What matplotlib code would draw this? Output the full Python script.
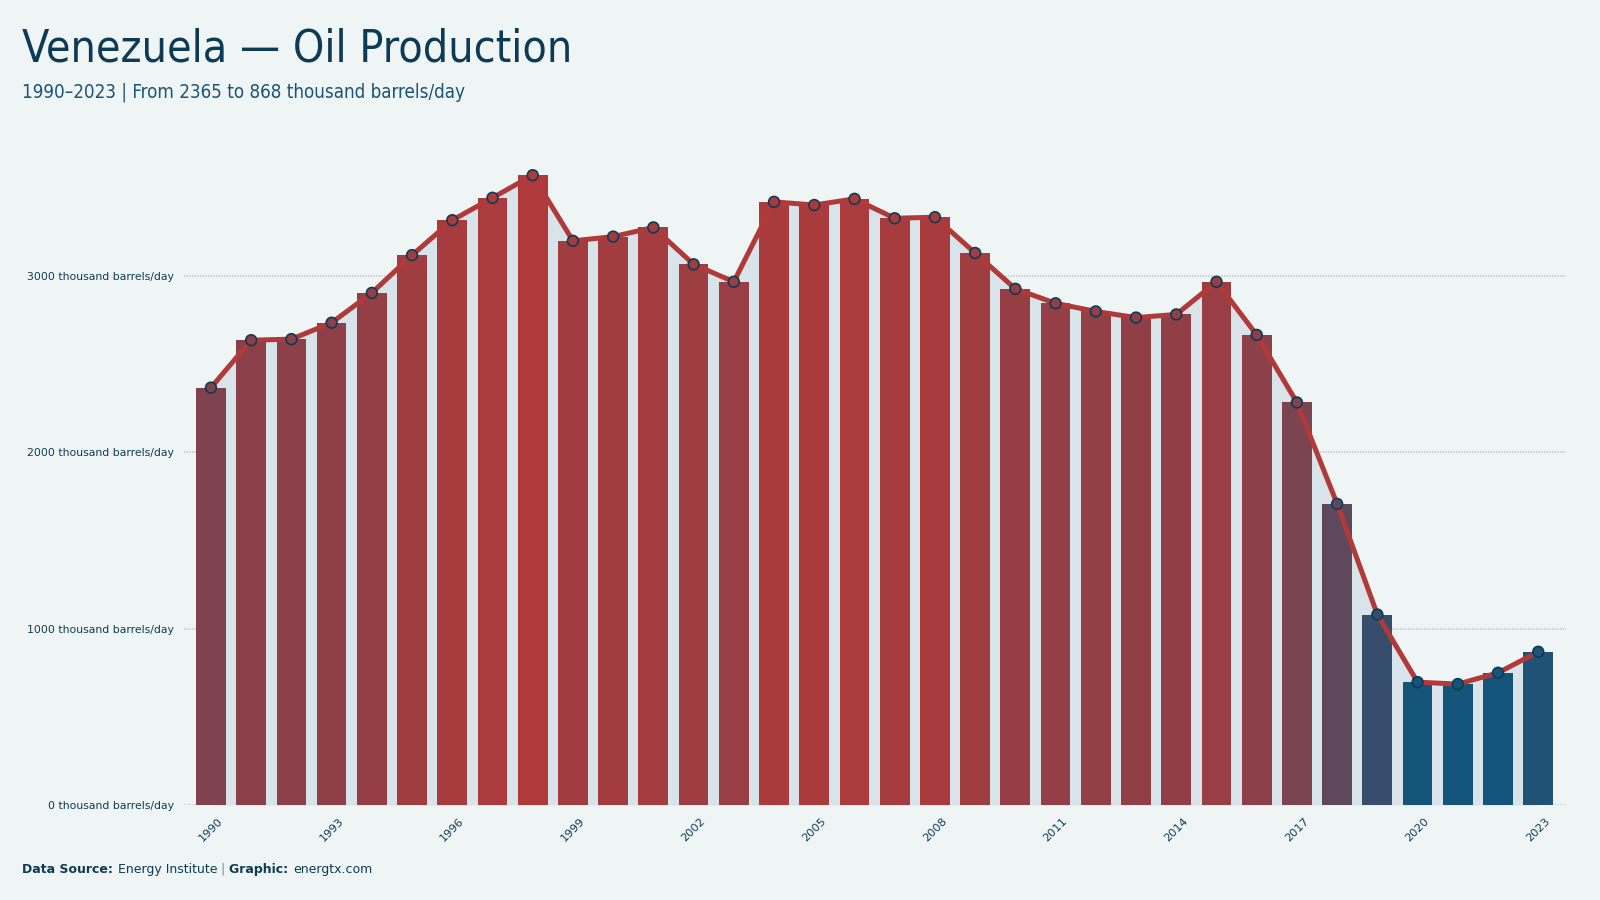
import numpy as np
import matplotlib.pyplot as plt
from matplotlib import font_manager
from matplotlib.colors import to_rgb

years = list(range(1990, 2024))
production = [2365, 2634, 2640, 2733, 2902, 3116, 3314, 3441, 3569, 3197,
              3221, 3273, 3064, 2965, 3418, 3400, 3435, 3325, 3331, 3128,
              2925, 2843, 2797, 2762, 2780, 2965, 2664, 2281, 1706, 1079,
              696, 685, 749, 868]
yticks = [0, 1000, 2000, 3000]
xtick_years = list(range(1990, 2024, 3))

bg = '#eff5f5'
navy = '#0d3b55'
blue = np.array(to_rgb('#15547a'))
red = np.array(to_rgb('#b03a3a'))

# narrow face for the headline if one is installed
narrow = None
for f in font_manager.fontManager.ttflist:
    n = f.fname.lower()
    if ('condensed' in n or 'narrow' in n) and 'bold' not in n and 'oblique' not in n \
            and 'italic' not in n and 'light' not in n:
        narrow = f.fname
        break
if narrow:
    head = dict(fontproperties=font_manager.FontProperties(fname=narrow))
else:
    head = dict(family='Roboto')


def bar_color(v):
    t = np.clip((v - 820) / (max(production) - 820), 0, 1) ** 0.65
    return tuple(blue + (red - blue) * t)


colors = [bar_color(v) for v in production]
x = np.arange(len(years))

fig = plt.figure(figsize=(16, 9), dpi=100, facecolor=bg)
ax = fig.add_axes([0.115, 0.1056, 0.864, 0.745], facecolor=bg)

for y in yticks:
    ax.axhline(y, color='#c6d3da', lw=1.2, ls=(0, (1, 0.6)), zorder=0)

ax.fill_between(x, production, 0, color='#d8e4e9', zorder=1, lw=0)
ax.bar(x, production, width=0.74, color=colors, zorder=2)
ax.plot(x, production, color='#b03a3a', lw=3.6, zorder=3, solid_joinstyle='round')
ax.scatter(x, production, s=60, c=colors, edgecolors=navy, linewidths=1.2, zorder=4)

ax.set_xlim(-0.67, len(years) - 0.3)
ax.set_ylim(0, 3800)
ax.set_yticks(yticks)
ax.set_yticklabels([f'{v} thousand barrels/day' for v in yticks], fontsize=7.8, color=navy)
ax.set_xticks([years.index(y) for y in xtick_years])
ax.set_xticklabels([str(y) for y in xtick_years], rotation=45, fontsize=8.2, color=navy,
                   ha='center', va='top')
ax.tick_params(length=0, pad=8)
ax.tick_params(axis='y', pad=7)
for s in ax.spines.values():
    s.set_visible(False)

t = fig.text(0.014, 0.945, 'Venezuela — Oil Production', fontsize=34, color=navy,
             va='center', **head)
st = fig.text(0.014, 0.897, '1990–2023 | From 2365 to 868 thousand barrels/day', fontsize=15,
              color='#1a5478', va='center', **head)
if narrow:
    t.set_fontsize(32)
    st.set_fontsize(13.5)

t1 = fig.text(0.014, 0.034, 'Data Source: ', fontsize=9, color=navy, weight='bold', va='center')
t2 = fig.text(0, 0, 'Energy Institute ', fontsize=9, color=navy, va='center')
t3 = fig.text(0, 0, '| ', fontsize=9, color='#6b8ca0', va='center')
t4 = fig.text(0, 0, 'Graphic: ', fontsize=9, color=navy, weight='bold', va='center')
t5 = fig.text(0, 0, 'energtx.com', fontsize=9, color=navy, va='center')
fig.canvas.draw()
r = fig.canvas.get_renderer()
prev = t1
for tt in [t2, t3, t4, t5]:
    bb = prev.get_window_extent(r)
    tt.set_position((bb.x1 / fig.bbox.width, 0.034))
    fig.canvas.draw()
    prev = tt

fig.savefig('out.png', dpi=100, facecolor=bg)
